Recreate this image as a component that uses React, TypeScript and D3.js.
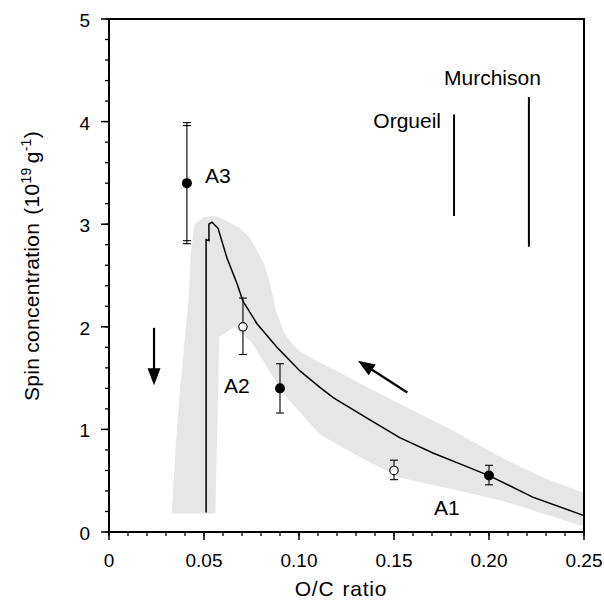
import React from "react";
import * as d3 from "d3";

// ---- data ----
const xTicks = [0, 0.05, 0.1, 0.15, 0.2, 0.25];
const xTickLabels = ["0", "0.05", "0.10", "0.15", "0.20", "0.25"];
const yTicks = [0, 1, 2, 3, 4, 5];

// samples
const sampleX = [0.041, 0.0705, 0.09, 0.15, 0.2];
const sampleY = [3.4, 2.0, 1.4, 0.6, 0.55];
const sampleLow = [2.81, 1.73, 1.16, 0.51, 0.46];
const sampleHigh = [3.99, 2.28, 1.64, 0.7, 0.65];
const sampleFilled = [true, false, true, false, true];

// model curve
const curveX = [0.0511, 0.0511, 0.0526, 0.0526, 0.0542, 0.0574, 0.0621, 0.0674, 0.0705, 0.0779, 0.0884, 0.1005, 0.111, 0.118, 0.1358, 0.153, 0.1705, 0.188, 0.2, 0.223, 0.25];
const curveY = [0.19, 2.85, 2.84, 3.0, 3.02, 2.96, 2.67, 2.42, 2.25, 2.03, 1.8, 1.57, 1.41, 1.31, 1.11, 0.92, 0.77, 0.64, 0.55, 0.34, 0.16];

// uncertainty band outline
const bandX = [0.033, 0.035, 0.037, 0.04, 0.042, 0.043, 0.045, 0.05, 0.056, 0.062, 0.069, 0.074, 0.078, 0.082, 0.085, 0.088, 0.092, 0.097, 0.1005, 0.11, 0.12, 0.135, 0.153, 0.18, 0.206, 0.23, 0.25, 0.25, 0.23, 0.206, 0.18, 0.153, 0.13, 0.111, 0.094, 0.085, 0.075, 0.066, 0.058, 0.057, 0.056];
const bandY = [0.18, 0.8, 1.3, 1.9, 2.3, 2.7, 3.0, 3.07, 3.08, 3.03, 2.96, 2.87, 2.74, 2.6, 2.4, 2.15, 1.95, 1.82, 1.76, 1.66, 1.57, 1.42, 1.25, 1.0, 0.73, 0.52, 0.38, 0.05, 0.17, 0.31, 0.42, 0.53, 0.75, 0.95, 1.3, 1.55, 1.85, 2.0, 1.9, 1.0, 0.18];

// meteorite ranges
const meteorNames = ["Orgueil", "Murchison"];
const meteorX = [0.1816, 0.221];
const meteorLow = [3.08, 2.78];
const meteorHigh = [4.07, 4.24];

// sample labels
const sampleLabels = ["A3", "A2", "A1"];
const sampleLabelX = [0.0505, 0.0605, 0.171];
const sampleLabelY = [3.4, 1.355, 0.166];

// arrows tail -> tip
const arrowTail = [[0.0237, 1.99], [0.157, 1.36]];
const arrowTip = [[0.0237, 1.43], [0.131, 1.67]];

export default function App() {
  const W = 604, H = 602;
  const x = d3.scaleLinear().domain([0, 0.25]).range([109, 584]);
  const y = d3.scaleLinear().domain([0, 5]).range([532, 19]);

  const line = d3.line<[number, number]>().x((d) => x(d[0])).y((d) => y(d[1]));
  const curvePts = curveX.map((cx, i) => [cx, curveY[i]] as [number, number]);
  const bandPts = bandX.map((bx, i) => [bx, bandY[i]] as [number, number]);
  const bandPath = d3.line<[number, number]>().x((d) => x(d[0])).y((d) => y(d[1])).curve(d3.curveLinearClosed)(bandPts);

  const xMinor = d3.range(0, 0.2501, 0.01);
  const yMinor = d3.range(0, 5.001, 0.2);
  const font = "'Liberation Sans', Arial, Helvetica, sans-serif";

  const arrowHead = (tail: number[], tip: number[], key: string) => {
    const tx = x(tail[0]), ty = y(tail[1]), px = x(tip[0]), py = y(tip[1]);
    const ang = Math.atan2(py - ty, px - tx);
    const L = 17, Wd = 6.5;
    const bx = px - L * Math.cos(ang), by = py - L * Math.sin(ang);
    const nx = -Math.sin(ang), ny = Math.cos(ang);
    return (
      <g key={key}>
        <line x1={tx} y1={ty} x2={bx + 2 * Math.cos(ang)} y2={by + 2 * Math.sin(ang)} stroke="#000" strokeWidth={2.2} />
        <polygon points={`${px},${py} ${bx + nx * Wd},${by + ny * Wd} ${bx - nx * Wd},${by - ny * Wd}`} fill="#000" />
      </g>
    );
  };

  return (
    <svg width={W} height={H} style={{ display: "block", position: "absolute", left: 0, top: 0, background: "#fff" }} fontFamily={font}>
      <rect x={0} y={0} width={W} height={H} fill="#fff" />
      {/* band */}
      <path d={bandPath || ""} fill="#e6e6e6" stroke="none" />
      {/* meteorite ranges */}
      {meteorX.map((mx, i) => (
        <line key={"m" + i} x1={x(mx)} x2={x(mx)} y1={y(meteorLow[i])} y2={y(meteorHigh[i])} stroke="#000" strokeWidth={2} />
      ))}
      <text x={x(meteorX[0]) - 13} y={y(meteorHigh[0]) + 14} textAnchor="end" fontSize={21}>{meteorNames[0]}</text>
      <text x={x(meteorX[1]) + 12} y={y(meteorHigh[1]) - 12} textAnchor="end" fontSize={21}>{meteorNames[1]}</text>
      {/* curve */}
      <path d={line(curvePts) || ""} fill="none" stroke="#000" strokeWidth={1.5} />
      {/* samples */}
      {sampleX.map((sx, i) => {
        const cx = x(sx);
        const double = i === 0;
        return (
          <g key={"s" + i}>
            <line x1={cx} x2={cx} y1={y(sampleLow[i])} y2={y(sampleHigh[i])} stroke="#000" strokeWidth={1.1} />
            <line x1={cx - 4} x2={cx + 4} y1={y(sampleLow[i])} y2={y(sampleLow[i])} stroke="#000" strokeWidth={1.1} />
            <line x1={cx - 4} x2={cx + 4} y1={y(sampleHigh[i])} y2={y(sampleHigh[i])} stroke="#000" strokeWidth={1.1} />
            {double && (
              <>
                <line x1={cx - 4} x2={cx + 4} y1={y(sampleLow[i]) - 3} y2={y(sampleLow[i]) - 3} stroke="#000" strokeWidth={1.1} />
                <line x1={cx - 4} x2={cx + 4} y1={y(sampleHigh[i]) + 3} y2={y(sampleHigh[i]) + 3} stroke="#000" strokeWidth={1.1} />
              </>
            )}
            {sampleFilled[i] ? (
              <circle cx={cx} cy={y(sampleY[i])} r={5} fill="#000" />
            ) : (
              <circle cx={cx} cy={y(sampleY[i])} r={4.2} fill="#fff" stroke="#000" strokeWidth={1.1} />
            )}
          </g>
        );
      })}
      {sampleLabels.map((s, i) => (
        <text key={"l" + i} x={x(sampleLabelX[i])} y={y(sampleLabelY[i])} fontSize={21}>{s}</text>
      ))}
      {/* arrows */}
      {arrowTail.map((t, i) => arrowHead(t, arrowTip[i], "a" + i))}
      {/* frame */}
      <rect x={x(0)} y={y(5)} width={x(0.25) - x(0)} height={y(0) - y(5)} fill="none" stroke="#000" strokeWidth={2} />
      {/* x ticks */}
      {xMinor.map((t, i) => (
        <line key={"xm" + i} x1={x(t)} x2={x(t)} y1={y(0)} y2={y(0) + 4} stroke="#000" strokeWidth={1.3} />
      ))}
      {xTicks.map((t, i) => (
        <g key={"xt" + i}>
          <line x1={x(t)} x2={x(t)} y1={y(0)} y2={y(0) + 8} stroke="#000" strokeWidth={1.5} />
          <text x={x(t)} y={y(0) + 35} textAnchor="middle" fontSize={19}>{xTickLabels[i]}</text>
        </g>
      ))}
      {/* y ticks */}
      {yMinor.map((t, i) => (
        <line key={"ym" + i} x1={x(0) - 4} x2={x(0)} y1={y(t)} y2={y(t)} stroke="#000" strokeWidth={1.3} />
      ))}
      {yTicks.map((t, i) => (
        <g key={"yt" + i}>
          <line x1={x(0) - 8} x2={x(0)} y1={y(t)} y2={y(t)} stroke="#000" strokeWidth={1.5} />
          <text x={x(0) - 19} y={y(t) + 8} textAnchor="end" fontSize={19}>{t}</text>
        </g>
      ))}
      {/* axis titles */}
      <text x={341} y={596} textAnchor="middle" fontSize={21} letterSpacing={0.8}>
        O/C<tspan dx={8}>ratio</tspan>
      </text>
      <text transform={`translate(39, 266) rotate(-90)`} textAnchor="middle" fontSize={21} letterSpacing={0.3}>
        Spin<tspan dx={5}>concentration</tspan><tspan dx={8}>(10</tspan><tspan dy={-8} fontSize={14}>19</tspan><tspan dy={8} dx={4}>g</tspan><tspan dy={-8} fontSize={14}>-1</tspan><tspan dy={8}>)</tspan>
      </text>
    </svg>
  );
}
